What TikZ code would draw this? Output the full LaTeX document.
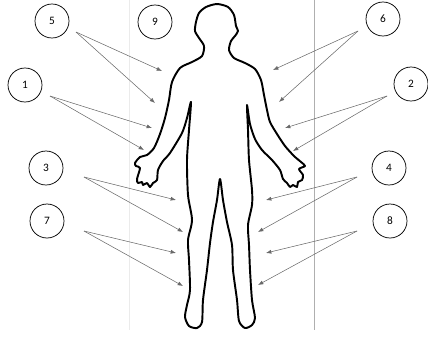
\documentclass[tikz,border=0pt]{standalone}
\usepackage{fontspec}
\setmainfont{Carlito}
\usetikzlibrary{arrows.meta}
\definecolor{guide}{RGB}{235,235,235}
\definecolor{guidedark}{RGB}{175,175,175}
\definecolor{pointer}{RGB}{105,105,105}
\tikzset{
  num/.style={draw, circle, minimum size=25.5pt, inner sep=0pt, line width=0.55pt, font=\fontsize{8.5}{10}\selectfont},
  arr/.style={draw=pointer, line width=0.4pt, -{Latex[length=4pt,width=3pt]}},
  outline/.style={line width=1.45pt, line join=round, line cap=round}
}
\begin{document}
\begin{tikzpicture}[x=0.75pt, y=-0.75pt]
  \useasboundingbox (0,0) rectangle (428,340);
  % guide lines
  \draw[guide, line width=0.6pt] (129,0) -- (129,330);
  \draw[guidedark, line width=0.7pt] (314,0) -- (314,330);
  % body outline
  \draw[outline] plot[smooth cycle, tension=0.45] coordinates {
    (217,4) (228,7) (234,15) (236,26) (238,31) (235,36) (231,41) (229,50)
    (234,58) (245,63) (255,69) (261,80) (264,95) (267,110) (270,122)
    (277,134) (285,146) (294,156) (301,162) (305,166) (299,169) (303,175)
    (302,180) (298,182) (297,187) (293,185) (290,187) (287,183) (283,179)
    (280,170) (272,160) (262,150) (255,139) (250,124) (247,105)
    (248,130) (249,160) (252,190) (252,205) (248,225) (249,245) (250,270)
    (252,300) (255,318) (252,325) (245,328) (239,321) (237,300) (233,270)
    (232,245) (227,222) (223,200) (220,179)
    (217,200) (213,222) (210,243) (207,270) (203,300) (202,322) (197,328)
    (189,326) (185,317) (187,305) (190,290) (189,260) (188,240) (192,220)
    (188,195) (187,160) (189,130) (191,102)
    (187,118) (182,133) (170,153) (163,161) (158,170) (157,180) (153,183)
    (150,187) (147,183) (143,185) (142,182) (138,183) (137,179) (140,168)
    (136,166) (135,163) (140,157) (147,155) (154,148) (160,134) (165,118)
    (169,100) (172,82) (180,68) (192,62) (202,56) (204,46) (199,38)
    (195,31) (196,22) (199,13) (206,7)
  };
  % numbered circles
  \foreach \n/\x/\y in {5/52/21, 9/155/22, 1/25/85, 6/383/19, 2/411/84,
                        3/46/168, 7/47/221, 4/389/168, 8/390/221}
    \node[num] (c\n) at (\x,\y) {\n};
  % pointers, two per circle
  \foreach \n/\sx/\sy/\ax/\ay/\bx/\by in {
      5/76/32/162/71/155/103,
      1/50/96/152/128/144/150,
      6/358/31/273/70/279/102,
      2/387/96/285/128/293/151,
      3/84/177/176/200/183/232,
      7/84/231/176/253/183/286,
      4/357/177/266/200/258/232,
      8/357/231/266/253/258/285}{
    \coordinate (s\n) at (\sx,\sy);
    \coordinate (p\n a) at (\ax,\ay);
    \coordinate (p\n b) at (\bx,\by);
    \draw[arr] (s\n) -- (p\n a);
    \draw[arr] (s\n) -- (p\n b);
  }
\end{tikzpicture}
\end{document}
